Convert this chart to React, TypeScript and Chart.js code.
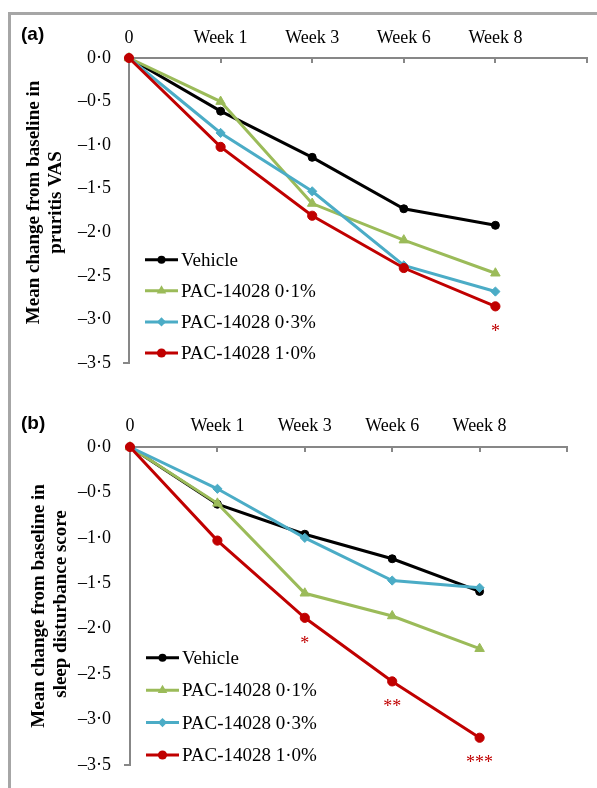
import React, { useEffect, useRef } from 'react';
import { Chart, registerables } from 'chart.js';

Chart.register(...registerables);

// ---------- data ----------
const xLabels = ['0', 'Week 1', 'Week 3', 'Week 6', 'Week 8'];
const yTickLabels = ['0·0', '–0·5', '–1·0', '–1·5', '–2·0', '–2·5', '–3·0', '–3·5'];
const seriesNames = ['Vehicle', 'PAC-14028 0·1%', 'PAC-14028 0·3%', 'PAC-14028 1·0%'];

// (a) pruritus VAS
const vasVehicle = [0, -0.61, -1.14, -1.73, -1.92];
const vas01 = [0, -0.5, -1.67, -2.09, -2.47];
const vas03 = [0, -0.86, -1.53, -2.38, -2.68];
const vas10 = [0, -1.02, -1.81, -2.41, -2.85];
const vasSig = ['', '', '', '', '*'];

// (b) sleep disturbance score
const sleepVehicle = [0, -0.63, -0.96, -1.23, -1.59];
const sleep01 = [0, -0.62, -1.61, -1.86, -2.22];
const sleep03 = [0, -0.46, -1.0, -1.47, -1.55];
const sleep10 = [0, -1.03, -1.88, -2.58, -3.2];
const sleepSig = ['', '', '*', '**', '***'];

// ---------- styles ----------
const SERIF = "'Liberation Serif', 'Times New Roman', serif";
const SANS = "'Liberation Sans', Arial, sans-serif";
const AXIS = '#878787';
const colors = ['#000000', '#9BBB59', '#4BACC6', '#C00000'];
const pointStyles = ['circle', 'triangle', 'rectRot', 'circle'];
const pointRadii = [4, 5.5, 4.6, 4.6];

type PanelCfg = {
  tag: string;
  title: string[];
  series: number[][];
  sig: string[];
  top: number;
  padding: { left: number; right: number; top: number; bottom: number };
  yW: number;
  xH: number;
  xPad: number;
  yPad: number;
  titleX: number[];
  titleDy: number[];
};

const panels: PanelCfg[] = [
  {
    tag: '(a)',
    title: ['Mean change from baseline in', 'pruritis VAS'],
    series: [vasVehicle, vas01, vas03, vas10],
    sig: vasSig,
    top: 0,
    padding: { left: 0, right: 10, top: 0, bottom: 31 },
    yW: 129,
    xH: 58,
    xPad: 9,
    yPad: 18,
    titleX: [34, 56],
    titleDy: [-8, -8],
  },
  {
    tag: '(b)',
    title: ['Mean change from baseline in', 'sleep disturbance score'],
    series: [sleepVehicle, sleep01, sleep03, sleep10],
    sig: sleepSig,
    top: 394,
    padding: { left: 0, right: 30, top: 0, bottom: 23 },
    yW: 130,
    xH: 53,
    xPad: 10,
    yPad: 19,
    titleX: [39, 61],
    titleDy: [0, -2],
  },
];

function drawMarker(ctx: CanvasRenderingContext2D, style: string, r: number, x: number, y: number) {
  ctx.beginPath();
  if (style === 'circle') {
    ctx.arc(x, y, r, 0, Math.PI * 2);
  } else if (style === 'triangle') {
    for (let k = 0; k < 3; k++) {
      const a = (k * 2 * Math.PI) / 3;
      const px = x + Math.sin(a) * r;
      const py = y - Math.cos(a) * r;
      if (k === 0) ctx.moveTo(px, py);
      else ctx.lineTo(px, py);
    }
    ctx.closePath();
  } else {
    ctx.moveTo(x - r, y);
    ctx.lineTo(x, y - r);
    ctx.lineTo(x + r, y);
    ctx.lineTo(x, y + r);
    ctx.closePath();
  }
  ctx.fill();
}

function Panel({ cfg }: { cfg: PanelCfg }) {
  const ref = useRef<HTMLCanvasElement>(null);
  useEffect(() => {
    const n = cfg.series.length;
    const decor = {
      id: 'decor',
      afterDraw(chart: any) {
        const { ctx, chartArea: ca, scales } = chart;
        const xs = scales.x;
        const ys = scales.y;
        ctx.save();
        // x tick marks pointing into the plot
        ctx.strokeStyle = AXIS;
        ctx.lineWidth = 2;
        for (let i = 1; i <= 5; i++) {
          const px = Math.round(xs.getPixelForValue(i));
          ctx.beginPath();
          ctx.moveTo(px, ca.top);
          ctx.lineTo(px, ca.top + 5);
          ctx.stroke();
        }
        // bottom tick of y axis
        ctx.beginPath();
        ctx.moveTo(ca.left - 6, ca.bottom);
        ctx.lineTo(ca.left + 1, ca.bottom);
        ctx.stroke();

        // significance asterisks below the 1.0% series
        const redIdx = n - 1;
        ctx.fillStyle = colors[redIdx];
        ctx.font = `18px ${SERIF}`;
        ctx.textAlign = 'center';
        ctx.textBaseline = 'middle';
        cfg.sig.forEach((s, i) => {
          if (!s) return;
          const px = xs.getPixelForValue(i);
          const py = ys.getPixelForValue(cfg.series[redIdx][i]);
          ctx.fillText(s, px, py + 26);
        });

        // legend
        const gap = (ca.bottom - ca.top) * 0.102;
        seriesNames.forEach((name, i) => {
          const yy = ca.bottom - 10 - (n - 1 - i) * gap;
          const x0 = ca.left + 16;
          const x1 = ca.left + 49;
          ctx.strokeStyle = colors[i];
          ctx.lineWidth = 3;
          ctx.beginPath();
          ctx.moveTo(x0, yy);
          ctx.lineTo(x1, yy);
          ctx.stroke();
          ctx.fillStyle = colors[i];
          drawMarker(ctx, pointStyles[i], pointRadii[i], (x0 + x1) / 2, yy);
          ctx.fillStyle = '#000';
          ctx.font = `19px ${SERIF}`;
          ctx.textAlign = 'left';
          ctx.textBaseline = 'middle';
          ctx.fillText(name, x1 + 3, yy + 1);
        });

        // panel tag
        ctx.fillStyle = '#000';
        ctx.font = `bold 19px ${SANS}`;
        ctx.textAlign = 'left';
        ctx.textBaseline = 'middle';
        ctx.fillText(cfg.tag, 21, ca.top - 23);

        // y-axis title (two lines, rotated)
        const cy = (ca.top + ca.bottom) / 2;
        ctx.font = `bold 19px ${SERIF}`;
        ctx.textAlign = 'center';
        cfg.title.forEach((t, k) => {
          ctx.save();
          ctx.translate(cfg.titleX[k], cy + cfg.titleDy[k]);
          ctx.rotate(-Math.PI / 2);
          ctx.fillText(t, 0, 0);
          ctx.restore();
        });
        ctx.restore();
      },
    };

    const chart = new Chart(ref.current as HTMLCanvasElement, {
      type: 'line',
      data: {
        datasets: cfg.series.map((vals, i) => ({
          label: seriesNames[i],
          data: vals.map((v, k) => ({ x: k, y: v })),
          borderColor: colors[i],
          backgroundColor: colors[i],
          borderWidth: 3,
          pointStyle: pointStyles[i] as any,
          pointRadius: pointRadii[i],
          pointBorderWidth: 1,
          pointBackgroundColor: colors[i],
          pointBorderColor: colors[i],
          tension: 0,
          clip: false as any,
          order: n - 1 - i,
        })),
      },
      options: {
        responsive: false,
        animation: false,
        events: [],
        layout: { padding: cfg.padding, autoPadding: false },
        plugins: { legend: { display: false }, tooltip: { enabled: false } },
        scales: {
          x: {
            type: 'linear',
            position: 'top',
            min: 0,
            max: 5,
            ticks: {
              stepSize: 1,
              autoSkip: false,
              maxRotation: 0,
              padding: cfg.xPad,
              color: '#000',
              font: { family: SERIF, size: 18 },
              callback: (v: any) => xLabels[v as number] ?? '',
            },
            grid: { display: false, drawTicks: false },
            border: { display: true, color: AXIS, width: 2 },
            afterFit: (s: any) => {
              s.height = cfg.xH;
              s.paddingLeft = 0;
              s.paddingRight = 0;
            },
          },
          y: {
            type: 'linear',
            min: -3.5,
            max: 0,
            ticks: {
              stepSize: 0.5,
              autoSkip: false,
              padding: cfg.yPad,
              color: '#000',
              font: { family: SERIF, size: 18 },
              callback: (v: any) => yTickLabels[Math.round(-(v as number) / 0.5)] ?? '',
            },
            grid: { display: false, drawTicks: false },
            border: { display: true, color: AXIS, width: 2 },
            afterFit: (s: any) => {
              s.width = cfg.yW;
              s.paddingTop = 0;
              s.paddingBottom = 0;
            },
          },
        },
      },
      plugins: [decor],
    });
    return () => chart.destroy();
  }, [cfg]);
  return (
    <canvas
      ref={ref}
      width={597}
      height={394}
      style={{ position: 'absolute', left: 0, top: cfg.top, width: 597, height: 394 }}
    />
  );
}

export default function App() {
  return (
    <div style={{ position: 'fixed', left: 0, top: 0, width: 597, height: 788, background: '#fff', overflow: 'hidden' }}>
      <div
        style={{
          position: 'absolute',
          left: 8,
          top: 12,
          width: 600,
          height: 800,
          borderTop: '3px solid #a6a6a6',
          borderLeft: '3px solid #a6a6a6',
        }}
      />
      {panels.map((p) => (
        <Panel key={p.tag} cfg={p} />
      ))}
    </div>
  );
}
